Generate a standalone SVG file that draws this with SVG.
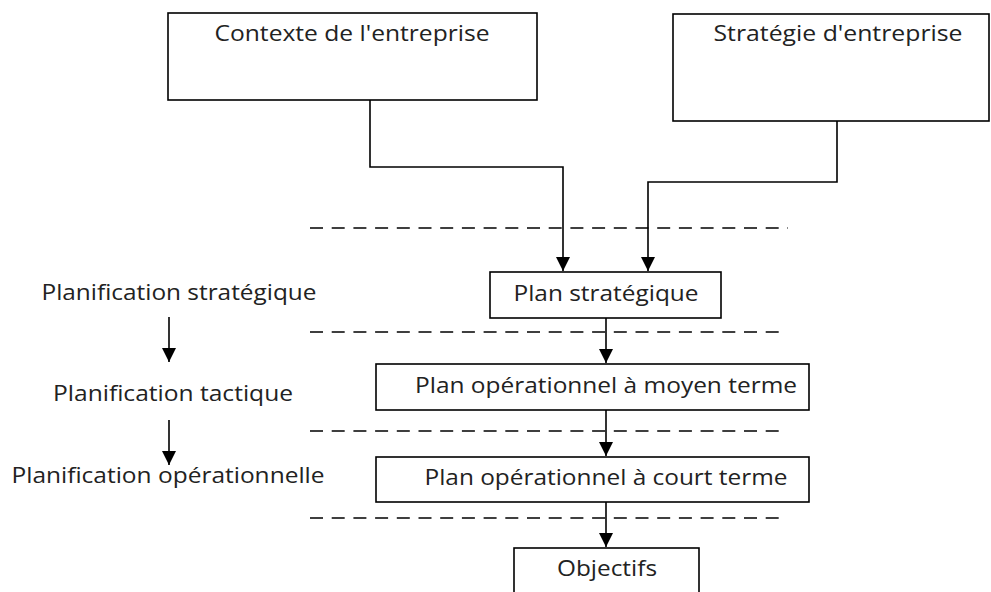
<svg xmlns="http://www.w3.org/2000/svg" width="991" height="592" viewBox="0 0 991 592">
<style>
.box{fill:#fff;stroke:#000;stroke-width:1.6}
.t{font-family:"Open Sans","Noto Sans",sans-serif;font-size:21.5px;fill:#222;text-anchor:middle}
.ln{fill:none;stroke:#000;stroke-width:1.6}
.dash{fill:none;stroke:#000;stroke-width:1.6;stroke-dasharray:13 8.7}
</style>
<defs>
<marker id="ah" markerUnits="userSpaceOnUse" markerWidth="14" markerHeight="14" viewBox="0 0 14 14" refX="14" refY="7" orient="auto">
<path d="M0,0 L14,7 L0,14 Z" fill="#000"/>
</marker>
</defs>
<rect width="991" height="592" fill="#fff"/>
<g id="separators">
<line class="dash" x1="310" y1="228" x2="788" y2="228"/>
<line class="dash" x1="310" y1="332" x2="783" y2="332"/>
<line class="dash" x1="310" y1="431" x2="781" y2="431"/>
<line class="dash" x1="310" y1="518" x2="785" y2="518"/>
</g>
<g id="connectors">
<path class="ln" d="M370,100 V167 H563 V271" marker-end="url(#ah)"/>
<path class="ln" d="M837,121 V182 H648 V271" marker-end="url(#ah)"/>
<path class="ln" d="M606,318 V363" marker-end="url(#ah)"/>
<path class="ln" d="M606,410 V456" marker-end="url(#ah)"/>
<path class="ln" d="M606,502 V547" marker-end="url(#ah)"/>
<path class="ln" d="M169,317 V362" marker-end="url(#ah)"/>
<path class="ln" d="M169,420 V465" marker-end="url(#ah)"/>
</g>
<g id="contexte">
<rect class="box" x="168" y="13" width="369" height="87"/>
<text class="t" x="352" y="41" textLength="275" lengthAdjust="spacingAndGlyphs">Contexte de l'entreprise</text>
</g>
<g id="strategie">
<rect class="box" x="673" y="14" width="316" height="107"/>
<text class="t" x="838" y="41" textLength="249" lengthAdjust="spacingAndGlyphs">Stratégie d'entreprise</text>
</g>
<g id="plan-strategique">
<rect class="box" x="490" y="272" width="231" height="46"/>
<text class="t" x="606" y="301" textLength="185" lengthAdjust="spacingAndGlyphs">Plan stratégique</text>
</g>
<g id="plan-moyen">
<rect class="box" x="376" y="364" width="433" height="46"/>
<text class="t" x="606" y="393" textLength="382" lengthAdjust="spacingAndGlyphs">Plan opérationnel à moyen terme</text>
</g>
<g id="plan-court">
<rect class="box" x="376" y="457" width="433" height="45"/>
<text class="t" x="606" y="485" textLength="363" lengthAdjust="spacingAndGlyphs">Plan opérationnel à court terme</text>
</g>
<g id="objectifs">
<rect class="box" x="514" y="548" width="185" height="50"/>
<text class="t" x="607" y="576" textLength="100" lengthAdjust="spacingAndGlyphs">Objectifs</text>
</g>
<g id="niveaux">
<text class="t" x="179" y="300" textLength="275" lengthAdjust="spacingAndGlyphs">Planification stratégique</text>
<text class="t" x="173" y="401" textLength="240" lengthAdjust="spacingAndGlyphs">Planification tactique</text>
<text class="t" x="168" y="483" textLength="313" lengthAdjust="spacingAndGlyphs">Planification opérationnelle</text>
</g>
</svg>
